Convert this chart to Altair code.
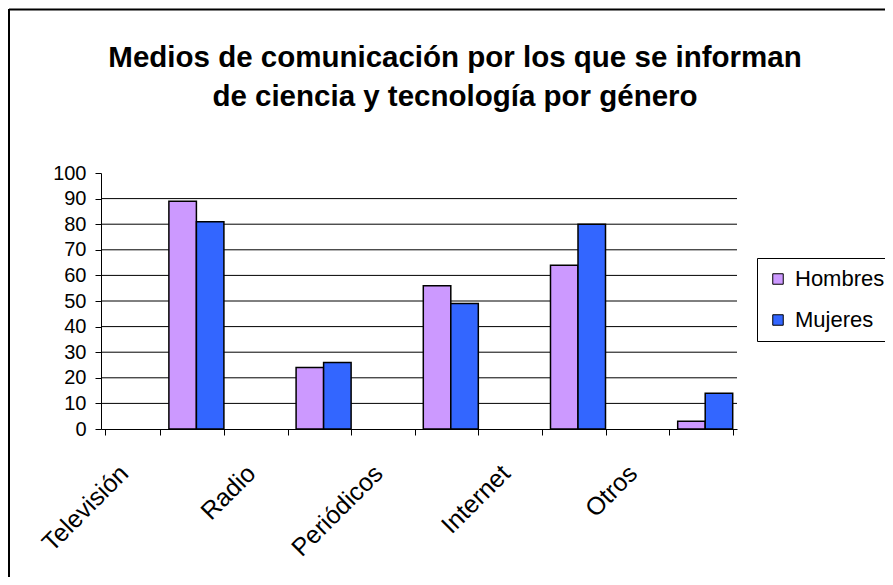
import altair as alt
import pandas as pd

categories = ["Televisión", "Radio", "Periódicos", "Internet", "Otros"]
hombres = [89, 24, 56, 64, 3]
mujeres = [81, 26, 49, 80, 14]
series = ["Hombres", "Mujeres"]
colors = ["#CC99FF", "#3366FF"]
y_ticks = list(range(0, 101, 10))
grid_values = list(range(10, 100, 10))

# Excel-like layout: each category label sits in its own slot, bars in the slot after it
slots = []
for c in categories:
    slots += [c, c + " "]

rows = []
for c, h, m in zip(categories, hombres, mujeres):
    rows.append({"slot": c + " ", "serie": "Hombres", "valor": h})
    rows.append({"slot": c + " ", "serie": "Mujeres", "valor": m})
df = pd.DataFrame(rows)

FONT = "Liberation Sans"
yscale = alt.Scale(domain=[0, 100], nice=False)
yaxis = alt.Axis(title=None, values=y_ticks, labelFont=FONT, labelFontSize=20,
                 labelOverlap=False, labelColor="black", labelPadding=9,
                 tickColor="black", tickSize=6, domainColor="black", grid=False)

grid = alt.Chart(pd.DataFrame({"v": grid_values})).mark_rule(color="black", strokeWidth=1).encode(
    y=alt.Y("v:Q", scale=yscale, axis=yaxis))

bars = alt.Chart(df).mark_bar(stroke="black", strokeWidth=1.5).encode(
    x=alt.X("slot:N", sort=slots,
            scale=alt.Scale(domain=slots, paddingInner=0.135, paddingOuter=0.0675),
            axis=alt.Axis(title=None, labelAngle=-45, labelAlign="right", labelBaseline="middle",
                          labelExpr="indexof(datum.label, ' ') >= 0 ? '' : datum.label",
                          labelOverlap=False, labelFont=FONT, labelFontSize=25,
                          labelColor="black", labelPadding=34, labelOffset=-9, tickBand="extent",
                          tickColor="black", tickSize=6, domainColor="black", grid=False)),
    xOffset=alt.XOffset("serie:N", sort=series,
                        scale=alt.Scale(paddingInner=0, paddingOuter=0)),
    y=alt.Y("valor:Q", scale=yscale, axis=yaxis),
    color=alt.Color("serie:N", sort=series,
                    scale=alt.Scale(domain=series, range=colors),
                    legend=alt.Legend(title=None, orient="none", legendX=656, legendY=85,
                                      strokeColor="black", fillColor="white", padding=10,
                                      symbolType="square", symbolSize=110,
                                      symbolStrokeColor="black", symbolStrokeWidth=1,
                                      labelFont=FONT, labelFontSize=22, labelColor="black",
                                      rowPadding=19, labelOffset=6)),
)

frame_df = pd.DataFrame({"k": [0]})
top_border = alt.Chart(frame_df).mark_rule(color="black", strokeWidth=2).encode(
    x=alt.value(-92), x2=alt.value(800), y=alt.value(-163.5))
left_border = alt.Chart(frame_df).mark_rule(color="black", strokeWidth=2).encode(
    x=alt.value(-92), y=alt.value(-164), y2=alt.value(420))

chart = alt.layer(grid, bars, top_border, left_border).properties(
    width=636, height=256,
    title=alt.TitleParams(
        ["Medios de comunicación por los que se informan", "de ciencia y tecnología por género"],
        font=FONT, fontSize=29.5, fontWeight="bold", color="black", anchor="middle",
        frame="group", dx=36, offset=-104, lineHeight=39),
    autosize=alt.AutoSizeParams(type="none"),
    padding={"left": 93, "top": 165, "right": 148, "bottom": 148},
).configure(background="white").configure_view(stroke=None)

chart.save("out.html", embed_options={"renderer": "svg", "actions": False})
